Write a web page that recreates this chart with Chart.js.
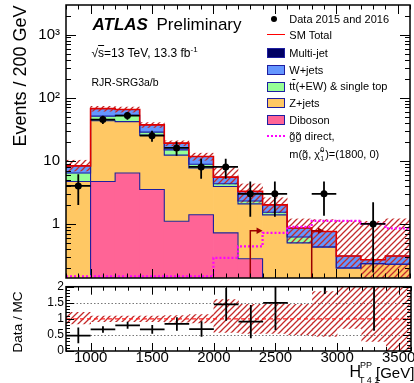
<!DOCTYPE html>
<html><head><meta charset="utf-8">
<script src="https://cdn.jsdelivr.net/npm/chart.js@4.4.1/dist/chart.umd.min.js"></script>
<style>
html,body{margin:0;padding:0;background:#fff;}
body{width:414px;height:383px;position:relative;overflow:hidden;font-family:'Liberation Sans',Arial,Helvetica,sans-serif;color:#000;}
canvas{position:absolute;left:0;}
#main{top:0;}
#ratio{top:270px;}
.t{position:absolute;white-space:nowrap;line-height:1;z-index:5;}
.box{position:absolute;left:267px;width:16px;height:8px;border:1.3px solid #1e1ea0;z-index:5;}
.ov{text-decoration:overline;}
</style></head><body>
<canvas id="main" width="414" height="282"></canvas>
<canvas id="ratio" width="414" height="113"></canvas>

<div class="t" style="left:92.5px;top:15.6px;font-size:17px;font-weight:bold;font-style:italic;">ATLAS</div>
<div class="t" style="left:156.5px;top:15.6px;font-size:17px;">Preliminary</div>
<div class="t" style="left:91.5px;top:45.5px;font-size:12px;">√<span class="ov">s</span>=13 TeV, 13.3 fb<sup style="font-size:8px;vertical-align:5px;">-1</sup></div>
<div class="t" style="left:91.5px;top:76.5px;font-size:10.5px;">RJR-SRG3a/b</div>

<div style="position:absolute;left:271.3px;top:16.3px;width:6px;height:6px;border-radius:50%;background:#000;z-index:5;"></div>
<div class="t" style="left:289.3px;top:13.8px;font-size:11px;">Data 2015 and 2016</div>
<div style="position:absolute;left:267px;top:34.3px;width:18px;height:0;border-top:1.5px solid #ff0000;z-index:5;"></div>
<div class="t" style="left:289.3px;top:29.5px;font-size:11px;">SM Total</div>
<div class="box" style="top:48.3px;background:#000064;"></div>
<div class="t" style="left:289.3px;top:47.8px;font-size:11px;">Multi-jet</div>
<div class="box" style="top:65px;background:#6496ff;"></div>
<div class="t" style="left:289.3px;top:64.5px;font-size:11px;">W+jets</div>
<div class="box" style="top:81.7px;background:#96ff96;"></div>
<div class="t" style="left:289.3px;top:81.2px;font-size:11px;">t<span class="ov">t</span>(+EW) &amp; single top</div>
<div class="box" style="top:98.3px;background:#ffc864;"></div>
<div class="t" style="left:289.3px;top:97.8px;font-size:11px;">Z+jets</div>
<div class="box" style="top:115px;background:#ff6496;"></div>
<div class="t" style="left:289.3px;top:114.5px;font-size:11px;">Diboson</div>
<div style="position:absolute;left:267px;top:135px;width:18px;height:0;border-top:2px dotted #ff00ff;z-index:5;"></div>
<div class="t" style="left:289.3px;top:130.5px;font-size:11px;">g&#771;g&#771; direct,</div>
<div class="t" style="left:289.3px;top:148.8px;font-size:11px;">m(g&#771;, χ&#771;<span style="display:inline-block;position:relative;width:5px;height:10px;vertical-align:top;"><span style="position:absolute;left:0;top:-3px;font-size:7px;">0</span><span style="position:absolute;left:0;top:6px;font-size:7px;">1</span></span>)=(1800, 0)</div>

<div class="t" style="left:20px;top:76px;font-size:18px;transform:translate(-50%,-50%) rotate(-90deg);">Events / 200 GeV</div>
<div class="t" style="left:18px;top:322px;font-size:13.5px;transform:translate(-50%,-50%) rotate(-90deg);">Data / MC</div>

<div class="t" style="left:349.5px;top:363.5px;font-size:16px;">H</div>
<div class="t" style="left:360px;top:361px;font-size:9px;">PP</div>
<div class="t" style="left:359px;top:375.5px;font-size:9px;">T 4 1</div>
<div class="t" style="left:376px;top:364.5px;font-size:15px;">[GeV]</div>

<script>
// ---------------- data ----------------
const binEdges   = [800,1000,1200,1400,1600,1800,2000,2200,2400,2600,2800,3000,3200,3400,3600];
const binCenters = [900,1100,1300,1500,1700,1900,2100,2300,2500,2700,2900,3100,3300,3500];
const diboson  = [0, 4.7, 6.4, 3.5, 1.1, 1.4, 0.72, 0.28, 0, 0, 0, 0, 0, 0];
const zjets    = [4.7, 38.3, 35.4, 22.0, 11.2, 6.3, 3.2, 1.8, 1.39, 0.50, 0.43, 0.20, 0.235, 0.23];
const ttbar    = [1.7, 8.0, 11.0, 3.0, 2.6, 1.1, 0.4, 0.23, 0.14, 0.12, 0, 0, 0, 0];
const wjets    = [1.9, 16.0, 12.2, 8.5, 4.1, 2.9, 1.2, 0.97, 0.47, 0.24, 0.33, 0.11, 0.035, 0.08];
const multijet = [0.02, 0.05, 0.05, 0.03, 0.02, 0.01, 0, 0, 0, 0, 0, 0, 0, 0];
const signal   = [0.03, 0.04, 0.05, 0.07, 0.09, 0.12, 0.29, 0.44, 0.72, 0.90, 1.12, 1.12, 1.0, 0.85];
const dataCounts = [4, 45, 52, 25, 16, 8, 8, 3, 3, null, 3, null, 1, null];
const dataLow    = [2.0, 38.3, 44.8, 20, 12, 5.2, 5.2, 1.3, 1.3, null, 1.35, null, 0.17, null];
const dataHigh   = [6.1, 51.7, 59.2, 30, 20, 10.8, 10.8, 4.7, 4.7, null, 4.7, null, 2.2, null];
const mainBandHigh = [10.2, 73, 71, 40.3, 20.7, 13.2, 7.8, 4.3, 2.6, 1.2, 1.17, 1.13, 1.1, 1.2];
const mainBandLow  = [6.9, 61, 59, 33.7, 17.3, 10.2, 4.3, 2.2, 1.5, 0.5, 0.43, 0.2, 0.05, 0.05];
const ratioBandHigh = [1.2, 1.09, 1.09, 1.09, 1.1, 1.13, 1.6, 1.45, 1.45, 1.45, 1.85, 2.5, 2.5, 2.5];
const ratioBandLow  = [0.84, 0.91, 0.91, 0.91, 0.9, 0.87, 0.58, 0.55, 0.55, 0.5, 0.45, 0.7, 0.3, 0];
const cutPositions = [2300, 2800];
const arrowHeight = 0.78;
const arrowLength = 100;
const yMainTicks  = [1, 10, 100, 1000];
const yMainLabels = ['1', '10', '10²', '10³'];
const xTicks      = [1000, 1500, 2000, 2500, 3000, 3500];
const xTickLabels = ['1000', '1500', '2000', '2500', '3000', '3500'];
const yRatioTicks  = [0, 0.5, 1, 1.5, 2];
const yRatioLabels = ['0', '0.5', '1', '1.5', '2'];
const Y_MIN = 0.139, Y_MAX = 2940;
const FLOOR = 1e-3;

// ---------------- helpers ----------------
const FONT = "'Liberation Sans', Arial, Helvetica, sans-serif";
const nB = binCenters.length;
const total = binCenters.map((_, i) => diboson[i] + zjets[i] + ttbar[i] + wjets[i] + multijet[i]);
const components = [
  {name:'Diboson', v: diboson, color:'#ff6496'},
  {name:'Z+jets', v: zjets, color:'#ffc864'},
  {name:'ttbar', v: ttbar, color:'#96ff96'},
  {name:'W+jets', v: wjets, color:'#6496ff'},
  {name:'Multi-jet', v: multijet, color:'#000064'}
];
let cum = new Array(nB).fill(0);
const stackBars = [], stackTops = [];
components.forEach(c => {
  const lo = cum.slice();
  cum = cum.map((s, i) => s + c.v[i]);
  const hi = cum.slice();
  stackBars.push({c, data: binCenters.map((x, i) => ({x, y: [Math.max(lo[i], FLOOR), Math.max(hi[i], FLOOR)]}))});
  stackTops.push({c, tops: hi});
});
function stepData(vals, clampMin) {
  const pts = binEdges.slice(0, -1).map((e, i) => ({x: e, y: Math.max(vals[i], clampMin)}));
  pts.push({x: binEdges[binEdges.length - 1], y: Math.max(vals[vals.length - 1], clampMin)});
  return pts;
}
const hatchTile = document.createElement('canvas');
hatchTile.width = hatchTile.height = 6;
(function(){
  const g = hatchTile.getContext('2d');
  g.strokeStyle = '#c42a2a'; g.lineWidth = 1.25;
  g.beginPath();
  g.moveTo(0, 6); g.lineTo(6, 0);
  g.moveTo(-3, 3); g.lineTo(3, -3);
  g.moveTo(3, 9); g.lineTo(9, 3);
  g.stroke();
})();
const mainCtx = document.getElementById('main').getContext('2d');
const hatch = mainCtx.createPattern(hatchTile, 'repeat');

// frame + inward ticks
const frameTicks = {
  id: 'frameTicks',
  afterDatasetsDraw(chart, args, opts) {
    const {ctx, chartArea: a, scales: {x, y}} = chart;
    ctx.save();
    ctx.strokeStyle = '#000'; ctx.lineWidth = 1;
    ctx.beginPath();
    for (let v = 800; v <= 3600; v += 100) {
      const px = Math.round(x.getPixelForValue(v)) + 0.5;
      const L = (v % 500 === 0) ? opts.xMajor : opts.xMinor;
      ctx.moveTo(px, a.bottom); ctx.lineTo(px, a.bottom - L);
      ctx.moveTo(px, a.top); ctx.lineTo(px, a.top + L);
    }
    opts.yTicks(y).forEach(([v, L]) => {
      const py = Math.round(y.getPixelForValue(v)) + 0.5;
      ctx.moveTo(a.left, py); ctx.lineTo(a.left + L, py);
      ctx.moveTo(a.right, py); ctx.lineTo(a.right - L, py);
    });
    ctx.stroke();
    ctx.lineWidth = 1.5;
    ctx.strokeRect(a.left, a.top, a.right - a.left, a.bottom - a.top);
    ctx.restore();
  }
};

function logTicks(y) {
  const out = [];
  for (let d = 0.1; d <= 1000; d *= 10) {
    for (let m = 1; m <= 9; m++) {
      const v = m * d;
      if (v >= y.min && v <= y.max) out.push([v, m === 1 ? 10 : 5]);
    }
  }
  return out;
}
function ratioTicks(y) {
  const out = [];
  for (let k = 0; k <= 20; k++) out.push([k / 10, (k % 5 === 0) ? 8 : 4]);
  return out;
}
function noPad(s) { s.paddingTop = 0; s.paddingBottom = 0; s.paddingLeft = 0; s.paddingRight = 0; }

const mainExtras = {
  id: 'mainExtras',
  afterDatasetsDraw(chart) {
    const {ctx, chartArea: a, scales: {x, y}} = chart;
    ctx.save();
    ctx.beginPath(); ctx.rect(a.left, a.top, a.right - a.left, a.bottom - a.top); ctx.clip();
    // cut arrows
    ctx.strokeStyle = '#9b0000'; ctx.fillStyle = '#9b0000'; ctx.lineWidth = 1.5;
    cutPositions.forEach(c => {
      const px = x.getPixelForValue(c), py = y.getPixelForValue(arrowHeight);
      const tip = x.getPixelForValue(c + arrowLength);
      ctx.beginPath(); ctx.moveTo(px, a.bottom); ctx.lineTo(px, py); ctx.lineTo(tip - 4, py); ctx.stroke();
      ctx.beginPath(); ctx.moveTo(tip, py); ctx.lineTo(tip - 6, py - 3.2); ctx.lineTo(tip - 6, py + 3.2); ctx.closePath(); ctx.fill();
    });
    // data error bars
    ctx.strokeStyle = '#000'; ctx.lineWidth = 1.8;
    ctx.beginPath();
    binCenters.forEach((c, i) => {
      if (dataCounts[i] === null) return;
      const px = x.getPixelForValue(c), py = y.getPixelForValue(dataCounts[i]);
      ctx.moveTo(x.getPixelForValue(binEdges[i]), py); ctx.lineTo(x.getPixelForValue(binEdges[i + 1]), py);
      ctx.moveTo(px, y.getPixelForValue(dataLow[i])); ctx.lineTo(px, y.getPixelForValue(dataHigh[i]));
    });
    ctx.stroke();
    ctx.restore();
  }
};

const barCommon = {type: 'bar', grouped: false, barPercentage: 1, categoryPercentage: 1, borderWidth: 0, clip: 0};
const mainDatasets = [];
mainDatasets.push({type: 'line', label: 'Data', data: binCenters.map((x, i) => ({x, y: dataCounts[i]})).filter(p => p.y !== null),
  showLine: false, pointRadius: 3.5, pointBackgroundColor: '#000', pointBorderWidth: 0, order: 0});
mainDatasets.push({type: 'line', label: 'signal', data: stepData(signal, Y_MIN * 1.06), stepped: 'before', borderColor: '#ff00ff',
  borderWidth: 2.2, borderDash: [2, 2], pointRadius: 0, fill: false, clip: false, order: 1});
mainDatasets.push({type: 'line', label: 'SM Total', data: stepData(total, FLOOR), stepped: 'before', borderColor: '#e00000',
  borderWidth: 1.6, pointRadius: 0, fill: false, clip: 0, order: 2});
stackTops.slice(0, 3).forEach((s, k) => {
  mainDatasets.push({type: 'line', label: s.c.name + ' top', data: stepData(s.tops, FLOOR), stepped: 'before', borderColor: '#1e1ea0',
    borderWidth: 1.1, pointRadius: 0, fill: false, clip: 0, order: 3});
});
mainDatasets.push(Object.assign({}, barCommon, {label: 'band', data: binCenters.map((x, i) => ({x, y: [mainBandLow[i], mainBandHigh[i]]})),
  backgroundColor: hatch, order: 4}));
stackBars.forEach((s, k) => {
  mainDatasets.push(Object.assign({}, barCommon, {label: s.c.name, data: s.data, backgroundColor: s.c.color, order: 10 - k}));
});

new Chart(mainCtx, {
  type: 'bar',
  data: {datasets: mainDatasets},
  options: {
    responsive: false, animation: false, events: [],
    layout: {padding: {left: 0, right: 3, top: 5, bottom: 0}},
    plugins: {legend: {display: false}, tooltip: {enabled: false},
      frameTicks: {xMajor: 9, xMinor: 4.5, yTicks: logTicks}},
    scales: {
      x: {type: 'linear', min: 800, max: 3600, offset: false,
        afterBuildTicks: s => { s.ticks = xTicks.map(v => ({value: v})); },
        afterFit: s => { s.height = 2.5; noPad(s); },
        ticks: {display: false}, grid: {display: false, drawTicks: false}, border: {display: false}},
      y: {type: 'logarithmic', min: Y_MIN, max: Y_MAX,
        afterBuildTicks: s => { s.ticks = yMainTicks.map(v => ({value: v})); },
        afterFit: s => { s.width = 66; noPad(s); },
        ticks: {callback: (v, i) => yMainLabels[i], font: {family: FONT, size: 15}, color: '#000', padding: 6, autoSkip: false},
        grid: {display: false, drawTicks: false}, border: {display: false}}
    }
  },
  plugins: [mainExtras, frameTicks]
});

// ---------------- ratio panel ----------------
const ratio = binCenters.map((_, i) => dataCounts[i] === null ? null : dataCounts[i] / total[i]);
const ratioLo = binCenters.map((_, i) => dataCounts[i] === null ? null : dataLow[i] / total[i]);
const ratioHi = binCenters.map((_, i) => dataCounts[i] === null ? null : dataHigh[i] / total[i]);

const ratioExtras = {
  id: 'ratioExtras',
  beforeDatasetsDraw(chart) {
    const {ctx, chartArea: a, scales: {y}} = chart;
    ctx.save();
    ctx.strokeStyle = '#777'; ctx.lineWidth = 1; ctx.setLineDash([1.5, 2]);
    [0.5, 1.5].forEach(v => {
      const py = Math.round(y.getPixelForValue(v)) + 0.5;
      ctx.beginPath(); ctx.moveTo(a.left, py); ctx.lineTo(a.right, py); ctx.stroke();
    });
    ctx.restore();
  },
  afterDatasetsDraw(chart) {
    const {ctx, chartArea: a, scales: {x, y}} = chart;
    ctx.save();
    ctx.beginPath(); ctx.rect(a.left, a.top, a.right - a.left, a.bottom - a.top); ctx.clip();
    ctx.strokeStyle = '#ff2020'; ctx.lineWidth = 1.2; ctx.setLineDash([4, 3]);
    const p1 = y.getPixelForValue(1);
    ctx.beginPath(); ctx.moveTo(a.left, p1); ctx.lineTo(a.right, p1); ctx.stroke();
    ctx.setLineDash([]);
    ctx.strokeStyle = '#000'; ctx.lineWidth = 1.8;
    ctx.beginPath();
    binCenters.forEach((c, i) => {
      if (ratio[i] === null) return;
      const px = x.getPixelForValue(c);
      if (ratio[i] <= 2) {
        const py = y.getPixelForValue(ratio[i]);
        ctx.moveTo(x.getPixelForValue(binEdges[i]), py); ctx.lineTo(x.getPixelForValue(binEdges[i + 1]), py);
      }
      ctx.moveTo(px, y.getPixelForValue(Math.min(ratioLo[i], 2.2))); ctx.lineTo(px, y.getPixelForValue(Math.min(ratioHi[i], 2.2)));
    });
    ctx.stroke();
    ctx.restore();
  }
};

new Chart(document.getElementById('ratio').getContext('2d'), {
  type: 'bar',
  data: {datasets: [Object.assign({}, barCommon, {label: 'ratio band',
    data: binCenters.map((x, i) => ({x, y: [ratioBandLow[i], ratioBandHigh[i]]})), backgroundColor: hatch})]},
  options: {
    responsive: false, animation: false, events: [],
    layout: {padding: {left: 0, right: 3, top: 16.7, bottom: 0}},
    plugins: {legend: {display: false}, tooltip: {enabled: false},
      frameTicks: {xMajor: 8, xMinor: 4, yTicks: ratioTicks}},
    scales: {
      x: {type: 'linear', min: 800, max: 3600, offset: false,
        afterBuildTicks: s => { s.ticks = xTicks.map(v => ({value: v})); },
        afterFit: s => { s.height = 32; noPad(s); },
        ticks: {callback: (v, i) => xTickLabels[i], font: {family: FONT, size: 15}, color: '#000', padding: -2, autoSkip: false, maxRotation: 0},
        grid: {display: false, drawTicks: false}, border: {display: false}},
      y: {type: 'linear', min: 0, max: 2,
        afterBuildTicks: s => { s.ticks = yRatioTicks.map(v => ({value: v})); },
        afterFit: s => { s.width = 66; noPad(s); },
        ticks: {callback: (v, i) => yRatioLabels[i], font: {family: FONT, size: 12}, color: '#000', padding: 2, autoSkip: false},
        grid: {display: false, drawTicks: false}, border: {display: false}}
    }
  },
  plugins: [ratioExtras, frameTicks]
});
</script>
</body></html>
